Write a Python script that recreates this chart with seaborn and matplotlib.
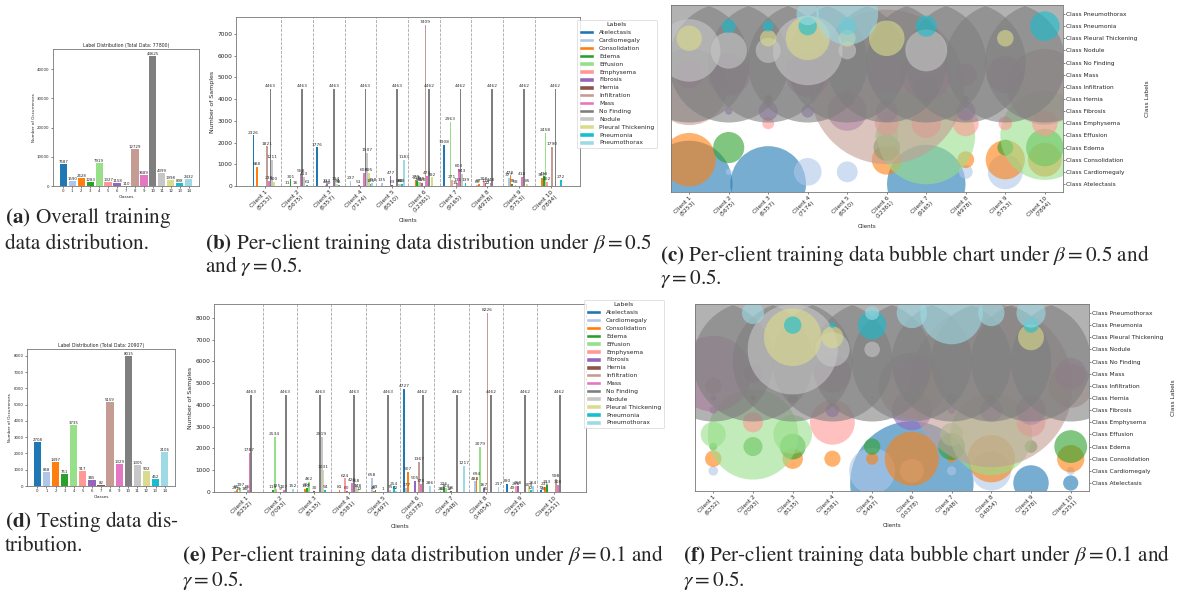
import numpy as np
import pandas as pd
import matplotlib
matplotlib.use("Agg")
import matplotlib.pyplot as plt
from matplotlib.patches import Patch
import seaborn as sns

# class names in label order
CLASSES = ['Atelectasis', 'Cardiomegaly', 'Consolidation', 'Edema', 'Effusion',
           'Emphysema', 'Fibrosis', 'Hernia', 'Infiltration', 'Mass',
           'No Finding', 'Nodule', 'Pleural Thickening', 'Pneumonia', 'Pneumothorax']

# (a) overall training / (d) testing label counts
train_counts = [7587, 1590, 2628, 1283, 7919, 1327, 1158, 110, 12729, 3689, 44625, 4399, 1998, 898, 2432]
train_total = 77800
test_counts = [2708, 858, 1497, 751, 3735, 917, 385, 82, 5159, 1329, 8015, 1305, 902, 452, 2106]
test_total = 20907

# client sample totals
totals_b05 = [8253, 5675, 6357, 7174, 6510, 12361, 9165, 4978, 5753, 7894]
totals_b01 = [6252, 7093, 8135, 5581, 5497, 10378, 5948, 14054, 5278, 5251]

# per-client class counts, beta = 0.5
client1_b05 = [2326, 0, 888, 0, 0, 0, 0, 0, 1821, 238, 4463, 1211, 200, 0, 0]
client2_b05 = [0, 11, 0, 301, 0, 0, 16, 0, 0, 558, 4463, 413, 0, 61, 0]
client3_b05 = [1776, 0, 0, 0, 0, 44, 113, 20, 0, 0, 4463, 194, 84, 38, 0]
client4_b05 = [0, 237, 0, 0, 0, 0, 51, 0, 0, 608, 4463, 1507, 595, 105, 158]
client5_b05 = [0, 135, 0, 0, 0, 0, 477, 63, 0, 0, 4463, 98, 88, 99, 1183]
client6_b05 = [0, 0, 279, 218, 166, 178, 150, 0, 7409, 473, 4462, 0, 392, 0, 0]
client7_b05 = [1908, 0, 0, 0, 2963, 271, 0, 15, 131, 803, 4462, 543, 0, 139, 0]
client8_b05 = [0, 60, 87, 0, 0, 208, 116, 12, 0, 148, 4462, 0, 0, 0, 0]
client9_b05 = [0, 377, 478, 78, 0, 58, 0, 0, 0, 418, 4462, 0, 85, 0, 0]
client10_b05 = [0, 0, 357, 438, 2458, 202, 0, 0, 1790, 0, 4462, 0, 0, 272, 0]

# per-client class counts, beta = 0.1
client1_b01 = [0, 29, 85, 19, 197, 0, 16, 9, 86, 1787, 4463, 0, 0, 0, 0]
client2_b01 = [0, 0, 0, 113, 2534, 125, 0, 9, 0, 107, 4463, 0, 0, 0, 152]
client3_b01 = [0, 0, 130, 206, 462, 0, 0, 30, 0, 0, 4463, 2519, 1031, 94, 0]
client4_b01 = [0, 0, 81, 0, 0, 624, 60, 0, 0, 428, 4463, 368, 148, 12, 0]
client5_b01 = [0, 658, 46, 83, 0, 0, 0, 1, 0, 0, 4463, 75, 0, 254, 62]
client6_b01 = [4727, 177, 907, 0, 0, 0, 505, 0, 1367, 378, 4462, 0, 0, 0, 286]
client7_b01 = [0, 26, 20, 226, 164, 0, 18, 36, 0, 0, 4462, 0, 0, 0, 1217]
client8_b01 = [0, 484, 694, 0, 2079, 0, 167, 15, 8226, 0, 4462, 0, 0, 0, 217]
client9_b01 = [390, 0, 0, 49, 0, 258, 268, 0, 0, 0, 4462, 0, 209, 72, 264]
client10_b01 = [72, 20, 231, 333, 0, 0, 0, 0, 598, 308, 4462, 0, 0, 0, 0]

counts_b05 = [client1_b05, client2_b05, client3_b05, client4_b05, client5_b05,
              client6_b05, client7_b05, client8_b05, client9_b05, client10_b05]
counts_b01 = [client1_b01, client2_b01, client3_b01, client4_b01, client5_b01,
              client6_b01, client7_b01, client8_b01, client9_b01, client10_b01]

sns.set_theme(style="ticks")
plt.rcParams['font.family'] = ['DejaVu Sans']
plt.rcParams['mathtext.fontset'] = 'stix'

colors = [plt.cm.tab20(v) for v in np.linspace(0, 1, 15)]
n_cls = len(CLASSES)

W, H = 1186, 594
fig = plt.figure(figsize=(W / 100, H / 100), dpi=100)


def box(l, t, r, b):
    return [l / W, 1 - b / H, (r - l) / W, (b - t) / H]


def style_axes(ax, size):
    ax.tick_params(labelsize=size, length=1.5, width=0.4, pad=1)
    for sp in ax.spines.values():
        sp.set_linewidth(0.6)
        sp.set_color('#777777')


def class_bars(ax, counts, total):
    df = pd.DataFrame({'cls': [str(i) for i in range(n_cls)], 'n': counts})
    sns.barplot(data=df, x='cls', y='n', hue='cls', palette=colors, saturation=1,
                legend=False, width=0.8, linewidth=0, edgecolor='none', ax=ax)
    for i, v in enumerate(counts):
        ax.text(i, v, str(v), ha='center', va='bottom', fontsize=2.8, color='#222222')
    ax.set_xlim(-1.14, n_cls + 0.14)
    ax.set_title(f"Label Distribution (Total Data: {total})", fontsize=3.3, pad=1.5)
    ax.set_xlabel('Classes', fontsize=3, labelpad=1)
    ax.set_ylabel('Number of Occurrences', fontsize=3, labelpad=1)
    style_axes(ax, 2.8)


def client_bars(ax, counts, totals):
    rows = []
    for ci, row in enumerate(counts):
        for k, v in enumerate(row):
            rows.append((f"Client {ci + 1}\n({totals[ci]})", CLASSES[k], v))
    df = pd.DataFrame(rows, columns=['client', 'label', 'n'])
    sns.barplot(data=df, x='client', y='n', hue='label', hue_order=CLASSES,
                palette=colors, saturation=1, legend=False, width=0.8,
                linewidth=0, edgecolor='none', ax=ax)
    bw = 0.8 / n_cls
    for ci, row in enumerate(counts):
        for k, v in enumerate(row):
            if v > 0:
                ax.text(ci + (k - (n_cls - 1) / 2) * bw, v + 40, str(v), ha='center',
                        va='bottom', fontsize=3.2, color='#333333')
    for ci in range(len(counts) - 1):
        ax.axvline(ci + 0.5, color='gray', ls='--', lw=0.6, alpha=0.7)
    ax.set_xlim(-0.93, len(counts) - 0.07)
    ax.set_xlabel('Clients', fontsize=4, labelpad=2)
    ax.set_ylabel('Number of Samples', fontsize=4.5, labelpad=2)
    ax.tick_params(axis='x', labelrotation=45)
    for t in ax.get_xticklabels():
        t.set_ha('right')
        t.set_rotation_mode('anchor')
    style_axes(ax, 4.2)


def bubbles(ax, counts, totals):
    rows = []
    for k, name in enumerate(CLASSES):
        for ci in range(len(counts)):
            rows.append((ci, k, name, counts[ci][k]))
    df = pd.DataFrame(rows, columns=['client', 'cls', 'label', 'n'])
    norm_max = 10000
    sns.scatterplot(data=df, x='client', y='cls', hue='label', hue_order=CLASSES,
                    palette=colors, size='n', sizes=(0, 1.67 * norm_max),
                    size_norm=(0, norm_max), alpha=0.6, linewidth=0, legend=False, ax=ax)
    ax.set_xlim(-0.46, len(counts) - 0.54)
    ax.set_ylim(-0.66, n_cls - 0.26)
    ax.set_xticks(range(len(counts)))
    ax.set_xticklabels([f"Client {ci + 1}\n({totals[ci]})" for ci in range(len(counts))],
                       rotation=45, ha='right', rotation_mode='anchor')
    ax.set_yticks(range(n_cls))
    ax.set_yticklabels([f"Class {c}" for c in CLASSES])
    ax.yaxis.tick_right()
    ax.yaxis.set_label_position('right')
    ax.set_xlabel('Clients', fontsize=4, labelpad=2)
    ax.set_ylabel('Class Labels', fontsize=4.2, labelpad=5)
    style_axes(ax, 4.2)


ax_a = fig.add_axes(box(53, 49, 199, 186))
class_bars(ax_a, train_counts, train_total)

ax_b = fig.add_axes(box(236, 17, 580, 186))
client_bars(ax_b, counts_b05, totals_b05)

ax_c = fig.add_axes(box(671, 5, 1063, 192))
bubbles(ax_c, counts_b05, totals_b05)

ax_d = fig.add_axes(box(27, 349, 175, 486))
class_bars(ax_d, test_counts, test_total)

ax_e = fig.add_axes(box(214, 304, 586, 492))
client_bars(ax_e, counts_b01, totals_b01)

ax_f = fig.add_axes(box(695, 304, 1089, 491))
bubbles(ax_f, counts_b01, totals_b01)

handles = [Patch(facecolor=c, label=n) for c, n in zip(colors, CLASSES)]
for x0, y0 in [(577, 20), (584, 300)]:
    leg = fig.legend(handles=handles, title='Labels', loc='upper left',
                     bbox_to_anchor=(x0 / W, 1 - y0 / H), fontsize=4.3, title_fontsize=4.5,
                     frameon=True, borderaxespad=0, handlelength=2.5, handleheight=0.8,
                     labelspacing=0.42, borderpad=0.4)
    leg.get_frame().set_linewidth(0.5)

captions = [
    (5, 218, r"$\mathbf{(a)}$ Overall training"),
    (5, 244, "data distribution."),
    (205, 243, r"$\mathbf{(b)}$ Per-client training data distribution under $\beta = 0.5$"),
    (205, 266, r"and $\gamma = 0.5$."),
    (660, 256, r"$\mathbf{(c)}$ Per-client training data bubble chart under $\beta = 0.5$ and"),
    (660, 279, r"$\gamma = 0.5$."),
    (5, 521, r"$\mathbf{(d)}$ Testing data dis-"),
    (5, 546, "tribution."),
    (182, 555, r"$\mathbf{(e)}$ Per-client training data distribution under $\beta = 0.1$ and"),
    (182, 580, r"$\gamma = 0.5$."),
    (683, 555, r"$\mathbf{(f)}$ Per-client training data bubble chart under $\beta = 0.1$ and"),
    (683, 580, r"$\gamma = 0.5$."),
]
for x, y, s in captions:
    fig.text(x / W, 1 - y / H, s, family='STIXGeneral', fontsize=15.3, va='center', ha='left')

fig.savefig('out.png', dpi=100)
